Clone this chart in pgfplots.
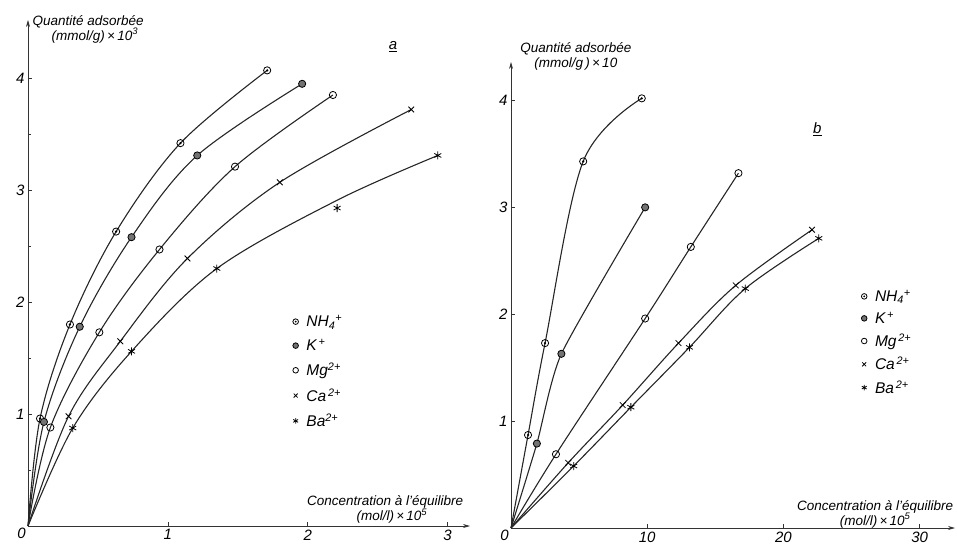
\documentclass[border=0pt]{standalone}
\usepackage{pgfplots}
\pgfplotsset{compat=1.18}
\usepackage{fontspec}
\setmainfont{Liberation Sans}
\usetikzlibrary{arrows.meta}
\pgfdeclareplotmark{odot}{%
  \pgfpathcircle{\pgfpointorigin}{\pgfplotmarksize}\pgfusepathqstroke
  \pgfpathcircle{\pgfpointorigin}{0.35\pgfplotmarksize}\pgfusepathqfill}
\pgfplotsset{
  common/.style={
    scale only axis, axis lines=left, clip=false,
    axis line style={line width=0.7pt, black!80, -{Stealth[length=7pt,width=4pt]}},
    tick style={black!80, line width=0.7pt}, major tick length=4pt, tick align=inside,
    /pgf/number format/assume math mode=true,
    ticklabel style={font=\fontsize{15}{17}\selectfont\itshape},
    label style={font=\fontsize{13.5}{15}\selectfont\itshape, align=center},
    legend style={draw=none, fill=none, font=\fontsize{15.5}{17}\selectfont\itshape,
      row sep=7pt, anchor=north west, legend cell align=left},
    legend image post style={mark size=2.8pt},
  },
  cur/.style={smooth, tension=0.55, no marks, line width=1.1pt, black!85, forget plot},
  pt/.style={only marks, black, mark size=3.6pt, line width=0.8pt},
  mNH/.style={pt, mark=odot},
  mK/.style={pt, mark=*, mark options={fill=black!55, draw=black}},
  mMg/.style={pt, mark=o, mark options={fill=white}},
  mCa/.style={pt, mark=x, mark size=4pt},
  mBa/.style={pt, mark=asterisk, mark size=4pt},
}
\begin{document}
\begin{tikzpicture}
\useasboundingbox (0pt,0pt) rectangle (957pt,550pt);
% ---------- panel a ----------
\begin{axis}[common,
  at={(28pt,24pt)}, anchor=south west,
  width=442pt, height=506pt,
  xmin=0, xmax=3.16, ymin=0, ymax=4.52,
  xtick={1,2,3}, ytick={1,2,3,4}, minor ytick={0.5,1.5,2.5,3.5},
  minor tick length=3pt,
  xlabel={Concentration à l'équilibre\\\hspace*{1em}(mol/l)\,×\,10\textsuperscript{5}},
  xlabel style={at={(axis description cs:0.808,0.032)}, anchor=center},
  ylabel={Quantité adsorbée\\\hspace*{1em}(mmol/g)\,×\,10\textsuperscript{3}},
  ylabel style={at={(axis description cs:0.136,0.982)}, anchor=center, rotate=-90},
  legend style={at={(axis description cs:0.592,0.425)}},
]
\addplot[cur] coordinates {(0,0) (0.086,0.96) (0.30,1.80) (0.63,2.63) (1.09,3.42) (1.71,4.07)};
\addplot[cur] coordinates {(0,0) (0.114,0.93) (0.37,1.78) (0.74,2.58) (1.21,3.31) (1.96,3.95)};
\addplot[cur] coordinates {(0,0) (0.16,0.88) (0.51,1.73) (0.94,2.47) (1.48,3.21) (2.18,3.85)};
\addplot[cur] coordinates {(0,0) (0.29,0.98) (0.66,1.65) (1.14,2.39) (1.80,3.07) (2.74,3.72)};
\addplot[cur] coordinates {(0,0) (0.32,0.875) (0.74,1.56) (1.35,2.30) (2.21,2.91) (2.93,3.31)};
\addplot[mNH] coordinates {(0.086,0.96) (0.30,1.80) (0.63,2.63) (1.09,3.42) (1.71,4.07)};
\addplot[mK] coordinates {(0.114,0.93) (0.37,1.78) (0.74,2.58) (1.21,3.31) (1.96,3.95)};
\addplot[mMg] coordinates {(0.16,0.88) (0.51,1.73) (0.94,2.47) (1.48,3.21) (2.18,3.85)};
\addplot[mCa] coordinates {(0.29,0.98) (0.66,1.65) (1.14,2.39) (1.80,3.07) (2.74,3.72)};
\addplot[mBa] coordinates {(0.32,0.875) (0.74,1.56) (1.35,2.30) (2.21,2.84) (2.93,3.31)};
\legend{\hspace{6pt}NH\textsubscript{4}\textsuperscript{+}, \hspace{6pt}K\textsuperscript{\,+}, \hspace{6pt}Mg\textsuperscript{2+}, \hspace{6pt}Ca\textsuperscript{\,2+}, \hspace{6pt}Ba\textsuperscript{2+}}
\node[font=\fontsize{15}{17}\selectfont\itshape, anchor=north east, inner sep=2pt] at (axis description cs:0,0) {0};
\node[font=\fontsize{15}{17}\selectfont\itshape] at (axis description cs:0.826,0.947) {\underline{a}};
\end{axis}
% ---------- panel b ----------
\begin{axis}[common,
  at={(511pt,22pt)}, anchor=south west,
  width=444pt, height=466pt,
  xmin=0, xmax=32.6, ymin=0, ymax=4.36,
  xtick={10,20,30}, ytick={1,2,3,4},
  xlabel={Concentration à l'équilibre\\(mol/l)\,×\,10\textsuperscript{5}},
  xlabel style={at={(axis description cs:0.82,0.03)}, anchor=center},
  ylabel={Quantité adsorbée\\(mmol/g\,)\,×\,10},
  ylabel style={at={(axis description cs:0.146,1.013)}, anchor=center, rotate=-90},
  legend style={at={(axis description cs:0.782,0.52)}, row sep=5pt},
]
\addplot[cur] coordinates {(0,0) (1.25,0.87) (2.5,1.73) (5.3,3.43) (9.6,4.02)};
\addplot[cur, tension=0.35] coordinates {(0,0) (1.9,0.79) (3.7,1.63) (9.85,3.0)};
\addplot[cur] coordinates {(0,0) (3.3,0.69) (9.85,1.96) (13.2,2.63) (16.7,3.32)};
\addplot[cur] coordinates {(0,0) (4.2,0.61) (8.2,1.15) (12.3,1.73) (16.5,2.27) (22.1,2.79)};
\addplot[cur] coordinates {(0,0) (4.6,0.58) (8.8,1.13) (13.1,1.69) (17.2,2.24) (22.6,2.71)};
\addplot[mNH] coordinates {(1.25,0.87) (2.5,1.73) (5.3,3.43) (9.6,4.02)};
\addplot[mK] coordinates {(1.9,0.79) (3.7,1.63) (9.85,3.0)};
\addplot[mMg] coordinates {(3.3,0.69) (9.85,1.96) (13.2,2.63) (16.7,3.32)};
\addplot[mCa] coordinates {(4.2,0.61) (8.2,1.15) (12.3,1.73) (16.5,2.27) (22.1,2.79)};
\addplot[mBa] coordinates {(4.6,0.58) (8.8,1.13) (13.1,1.69) (17.2,2.24) (22.6,2.71)};
\legend{\hspace{6pt}NH\textsubscript{4}\textsuperscript{+}, \hspace{6pt}K\textsuperscript{\,+}, \hspace{6pt}Mg\textsuperscript{\,2+}, \hspace{6pt}Ca\textsuperscript{\,2+}, \hspace{6pt}Ba\textsuperscript{\,2+}}
\node[font=\fontsize{15}{17}\selectfont\itshape, anchor=north east, inner sep=2pt] at (axis description cs:0,0) {0};
\node[font=\fontsize{15}{17}\selectfont\itshape] at (axis description cs:0.69,0.855) {\underline{b}};
\end{axis}
\end{tikzpicture}
\end{document}
